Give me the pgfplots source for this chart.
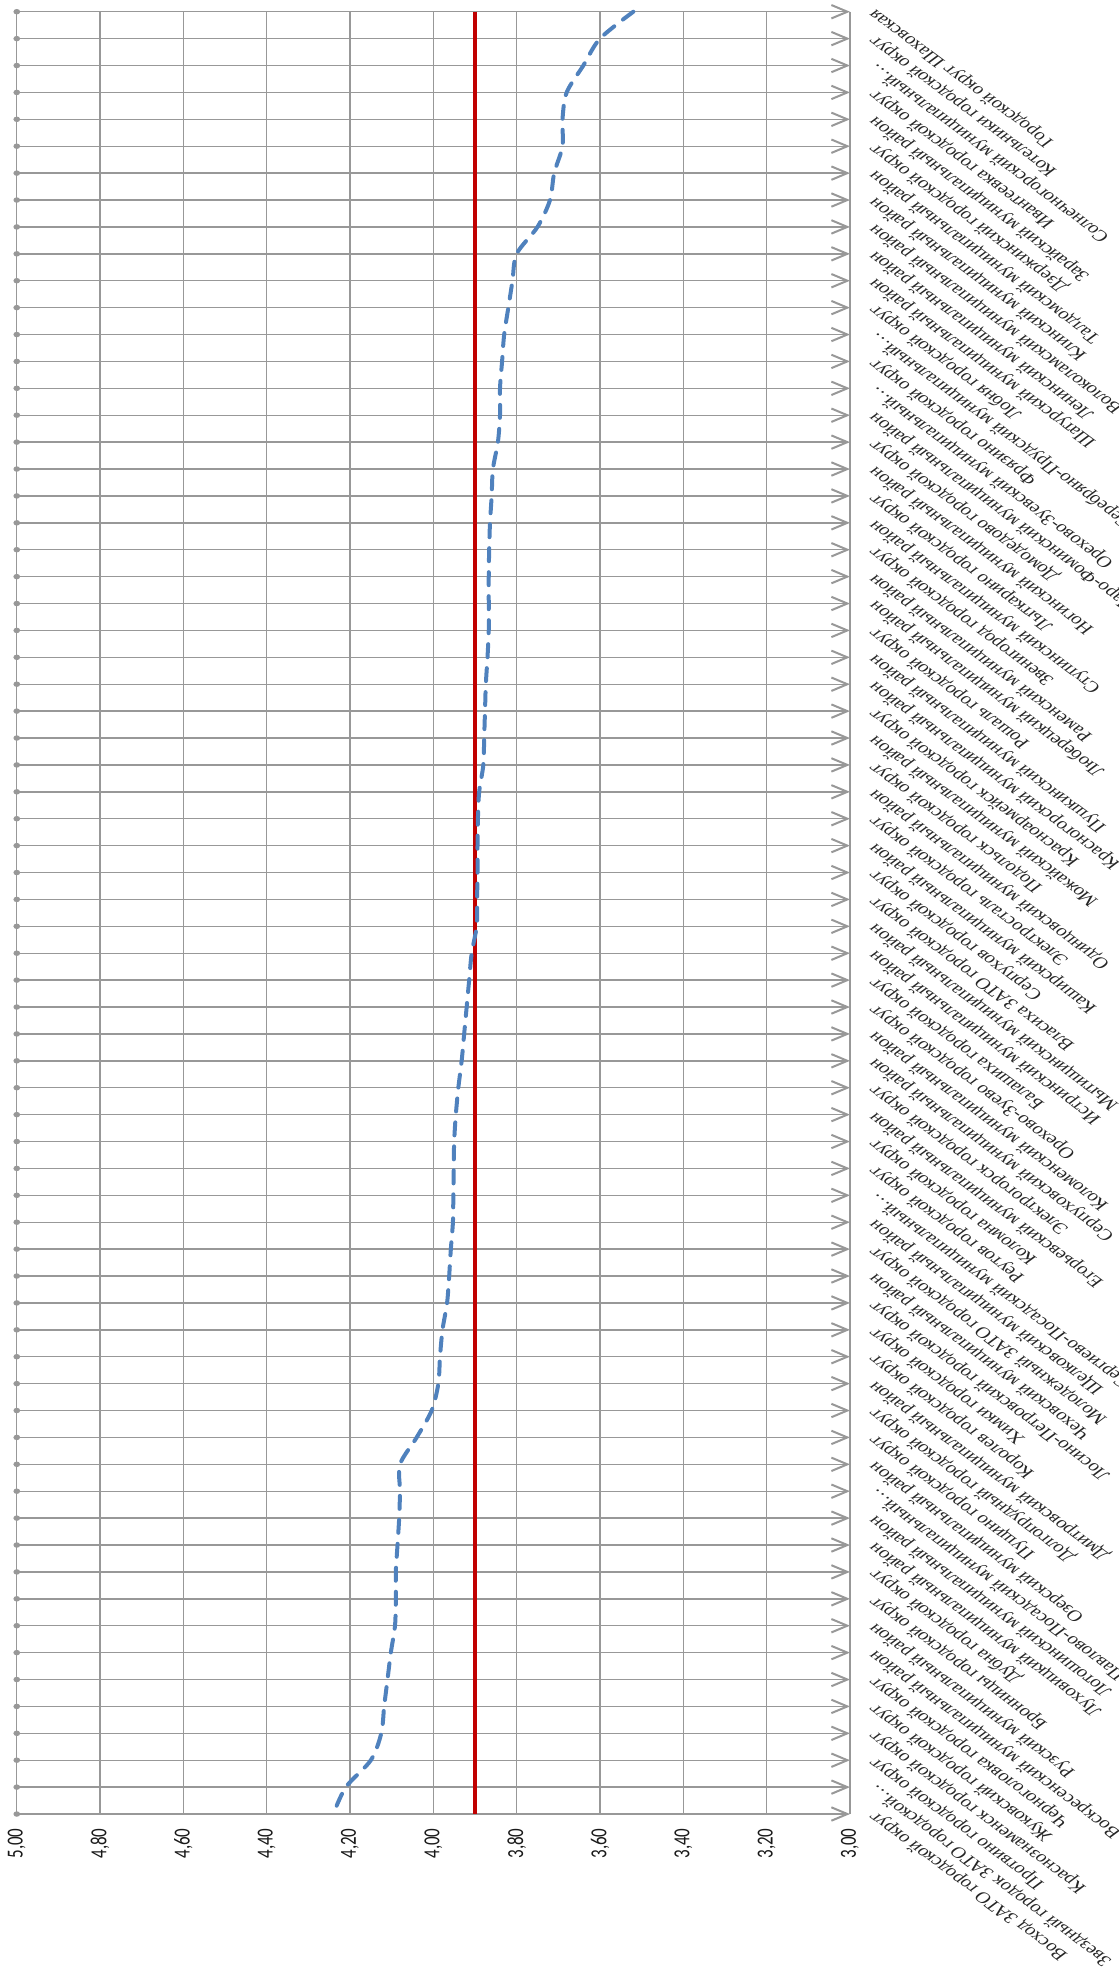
\documentclass[border=0pt]{standalone}
\usepackage{fontspec}
\setmainfont{Liberation Serif}
\newfontfamily\numfont{Carlito}
\usepackage{pgfplots}
\usepackage{pgfplotstable}
\pgfplotsset{compat=1.18}
\usetikzlibrary{arrows.meta}
\definecolor{gridgray}{RGB}{152,152,152}
\definecolor{lineblue}{RGB}{79,129,189}
\definecolor{refred}{RGB}{192,0,0}

\pgfplotstableread{
idx v
0 3.52
1 3.60
2 3.64
3 3.68
4 3.69
5 3.69
6 3.71
7 3.72
8 3.75
9 3.80
10 3.81
11 3.82
12 3.83
13 3.835
14 3.84
15 3.84
16 3.845
17 3.857
18 3.86
19 3.864
20 3.866
21 3.867
22 3.867
23 3.867
24 3.87
25 3.874
26 3.876
27 3.878
28 3.88
29 3.89
30 3.893
31 3.894
32 3.894
33 3.895
34 3.896
35 3.908
36 3.914
37 3.92
38 3.926
39 3.932
40 3.94
41 3.946
42 3.95
43 3.951
44 3.952
45 3.953
46 3.958
47 3.962
48 3.967
49 3.978
50 3.984
51 3.988
52 4.004
53 4.04
54 4.08
55 4.08
56 4.082
57 4.086
58 4.09
59 4.09
60 4.092
61 4.102
62 4.11
63 4.118
64 4.125
65 4.15
66 4.21
67 4.24
}\datatable

\begin{document}
\begin{tikzpicture}
\useasboundingbox (0,0) rectangle (559.5pt,989pt);
\begin{axis}[
  at={(8.35pt,82pt)}, anchor=south west,
  scale only axis, width=416.65pt, height=901.15pt,
  xmin=3, xmax=5, x dir=reverse,
  ymin=0, ymax=67, y dir=reverse,
  xtick={3,3.2,3.4,3.6,3.8,4,4.2,4.4,4.6,4.8,5},
  xticklabels={{3,00},{3,20},{3,40},{3,60},{3,80},{4,00},{4,20},{4,40},{4,60},{4,80},{5,00}},
  ytick={0,...,67},
  yticklabels={
    Городской округ Шаховская,
    Котельники городской округ,
    Солнечногорский муниципальный…,
    Ивантеевка городской округ,
    Зарайский муниципальный район,
    Дзержинский городской округ,
    Талдомский муниципальный район,
    Клинский муниципальный район,
    Волоколамский муниципальный район,
    Ленинский муниципальный район,
    Шатурский муниципальный район,
    Лобня городской округ,
    Серебряно-Прудский муниципальный…,
    Фрязино городской округ,
    Орехово-Зуевский муниципальный…,
    Наро-Фоминский муниципальный район,
    Домодедово городской округ,
    Ногинский муниципальный район,
    Лыткарино городской округ,
    Ступинский муниципальный район,
    Звенигород городской округ,
    Раменский муниципальный район,
    Люберецкий муниципальный район,
    Рошаль городской округ,
    Пушкинский муниципальный район,
    Красногорский муниципальный район,
    Красноармейск городской округ,
    Можайский муниципальный район,
    Подольск городской округ,
    Одинцовский муниципальный район,
    Электросталь городской округ,
    Каширский муниципальный район,
    Серпухов городской округ,
    Власиха ЗАТО городской округ,
    Мытищинский муниципальный район,
    Истринский муниципальный район,
    Балашиха городской округ,
    Орехово-Зуево городской округ,
    Коломенский муниципальный район,
    Серпуховский муниципальный район,
    Электрогорск городской округ,
    Егорьевский муниципальный район,
    Коломна городской округ,
    Реутов городской округ,
    Сергиево-Посадский муниципальный…,
    Щелковский муниципальный район,
    Молодежный ЗАТО городской округ,
    Чеховский муниципальный район,
    Лосино-Петровский городской округ,
    Химки городской округ,
    Королев городской округ,
    Дмитровский муниципальный район,
    Долгопрудный городской округ,
    Пущино городской округ,
    Озерский муниципальный район,
    Павлово-Посадский муниципальный…,
    Лотошинский муниципальный район,
    Луховицкий муниципальный район,
    Дубна городской округ,
    Бронницы городской округ,
    Рузский муниципальный район,
    Воскресенский муниципальный район,
    Черноголовка городской округ,
    Жуковский городской округ,
    Краснознаменск городской округ,
    Протвино городской округ,
    Звездный городок ЗАТО городской…,
    Восход ЗАТО городской округ},
  yticklabel pos=right,
  axis line style={draw=none},
  major tick length=0pt,
  tick style={draw=none},
  xmajorgrids,
  major x grid style={gridgray, line width=0.65pt},
  xticklabel style={yshift=-7pt, anchor=east, xscale=1.35, rotate=90, inner sep=0pt,
    font=\numfont\fontsize{8.5}{10}\selectfont, text=black!90},
  yticklabel style={xshift=11pt, anchor=east, xscale=1.35, rotate=135, inner sep=0pt,
    font=\fontsize{7.8}{9}\selectfont, text=black!85},
  clip=false,
]
\pgfplotsinvokeforeach{0,...,67}{
  \draw[gridgray, line width=0.7pt, shorten <=-1.6pt,
    {Circle[length=3.3pt,width=2.7pt]}-{Straight Barb[length=8pt,width=6.7pt,line width=1pt]}]
    (axis cs:5,#1) -- (axis cs:3,#1);
}
\addplot[refred, line width=2pt] coordinates {(3.9,0) (3.9,67)};
\addplot[lineblue, line width=2pt, line cap=round, dash pattern=on 6.5pt off 5.5pt,
  smooth, tension=0.5] table[x=v, y=idx] {\datatable};
\end{axis}
\end{tikzpicture}
\end{document}
